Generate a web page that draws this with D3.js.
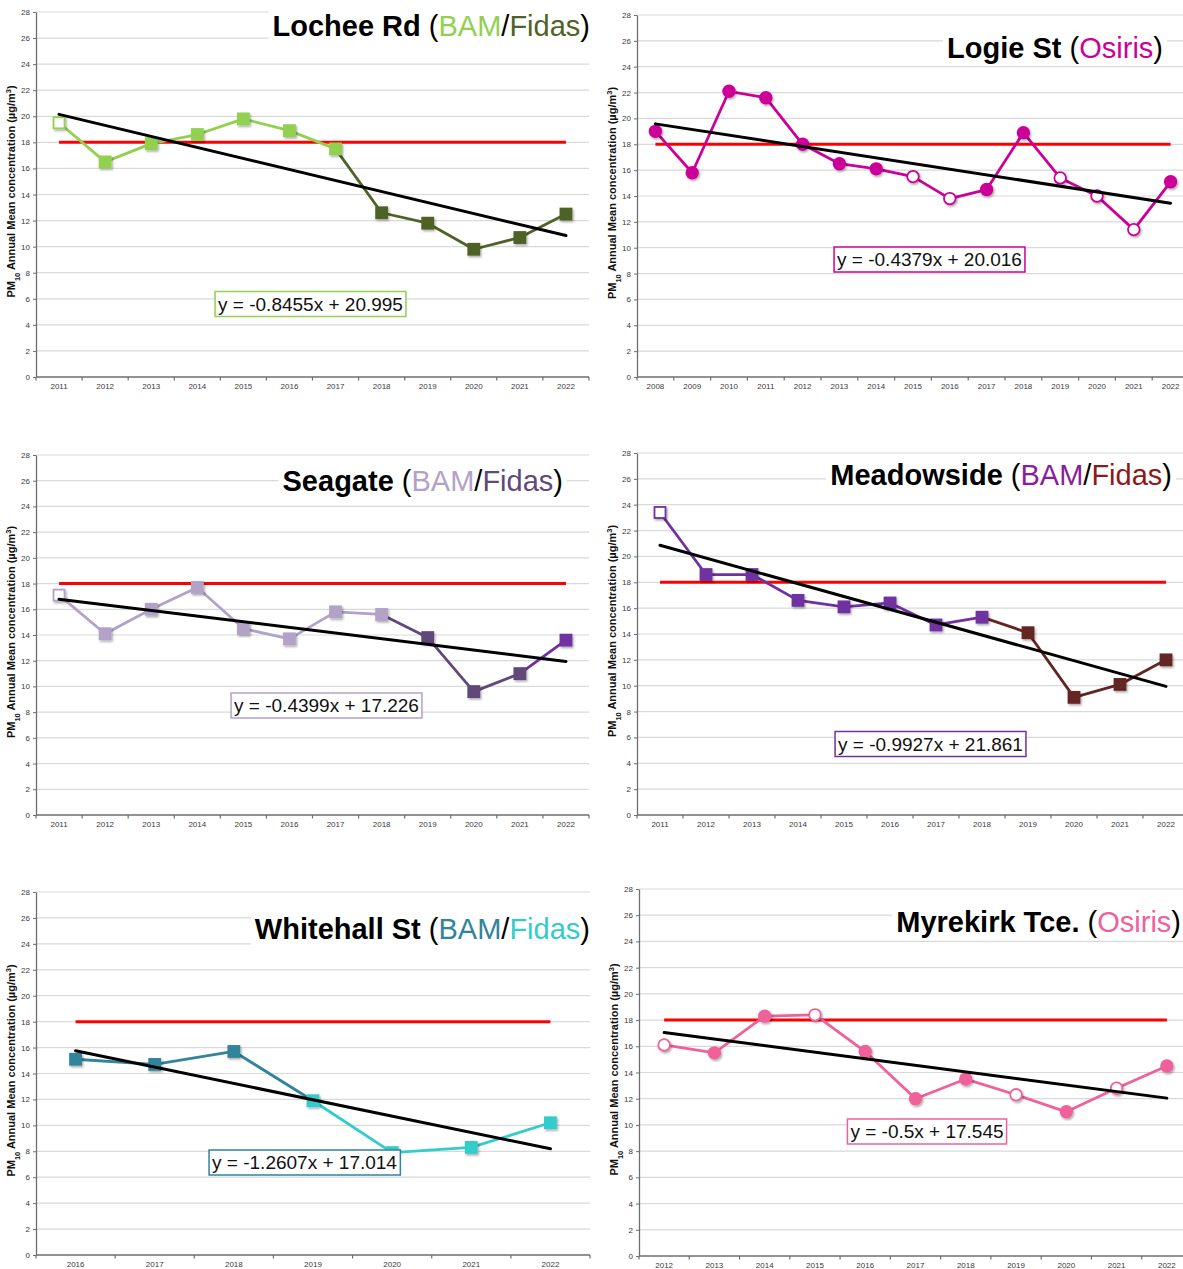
<!DOCTYPE html>
<html>
<head>
<meta charset="utf-8">
<script src="https://cdn.jsdelivr.net/npm/d3@7"></script>
<style>
  body { margin: 0; background: #fff; }
  svg { display: block; }
  text { font-family: "Liberation Sans", Arial, Helvetica, sans-serif; }
</style>
</head>
<body>
<svg id="chart" width="1183" height="1269"></svg>
<script>
// ---- Annual mean PM10 (µg/m3) by monitoring site ----
const objective = 18;                       // annual mean objective
const yTicks = [0, 2, 4, 6, 8, 10, 12, 14, 16, 18, 20, 22, 24, 26, 28];

const locheeYears = [2011, 2012, 2013, 2014, 2015, 2016, 2017, 2018, 2019, 2020, 2021, 2022];
const locheeValues = [19.5, 16.5, 17.9, 18.6, 19.8, 18.9, 17.5, 12.6, 11.8, 9.8, 10.7, 12.5];
const locheeMonitor = ["BAM", "BAM", "BAM", "BAM", "BAM", "BAM", "BAM", "Fidas", "Fidas", "Fidas", "Fidas", "Fidas"];
const locheeLowCapture = [true, false, false, false, false, false, false, false, false, false, false, false];
const locheeTrend = [-0.8455, 20.995];

const logieYears = [2008, 2009, 2010, 2011, 2012, 2013, 2014, 2015, 2016, 2017, 2018, 2019, 2020, 2021, 2022];
const logieValues = [19.0, 15.8, 22.1, 21.6, 18.0, 16.5, 16.1, 15.5, 13.8, 14.5, 18.9, 15.4, 14.0, 11.4, 15.1];
const logieMonitor = logieYears.map(() => "Osiris");
const logieLowCapture = [false, false, false, false, false, false, false, true, true, false, false, true, true, true, false];
const logieTrend = [-0.4379, 20.016];

const seagateYears = [2011, 2012, 2013, 2014, 2015, 2016, 2017, 2018, 2019, 2020, 2021, 2022];
const seagateValues = [17.1, 14.1, 16.0, 17.7, 14.5, 13.7, 15.8, 15.6, 13.8, 9.6, 11.0, 13.6];
const seagateMonitor = ["BAM", "BAM", "BAM", "BAM", "BAM", "BAM", "BAM", "BAM", "Fidas", "Fidas", "Fidas", "Fidas (new unit)"];
const seagateLowCapture = [true, false, false, false, false, false, false, false, false, false, false, false];
const seagateTrend = [-0.4399, 17.226];

const meadowYears = [2011, 2012, 2013, 2014, 2015, 2016, 2017, 2018, 2019, 2020, 2021, 2022];
const meadowValues = [23.4, 18.6, 18.6, 16.6, 16.1, 16.4, 14.7, 15.3, 14.1, 9.1, 10.1, 12.0];
const meadowMonitor = ["BAM", "BAM", "BAM", "BAM", "BAM", "BAM", "BAM", "BAM", "Fidas", "Fidas", "Fidas", "Fidas"];
const meadowLowCapture = [true, false, false, false, false, false, false, false, false, false, false, false];
const meadowTrend = [-0.9927, 21.861];

const whitehallYears = [2016, 2017, 2018, 2019, 2020, 2021, 2022];
const whitehallValues = [15.1, 14.7, 15.7, 11.9, 7.9, 8.3, 10.2];
const whitehallMonitor = ["BAM", "BAM", "BAM", "Fidas", "Fidas", "Fidas", "Fidas"];
const whitehallLowCapture = [false, false, false, false, false, false, false];
const whitehallTrend = [-1.2607, 17.014];

const myrekirkYears = [2012, 2013, 2014, 2015, 2016, 2017, 2018, 2019, 2020, 2021, 2022];
const myrekirkValues = [16.1, 15.5, 18.3, 18.4, 15.6, 12.0, 13.5, 12.3, 11.0, 12.8, 14.5];
const myrekirkMonitor = myrekirkYears.map(() => "Osiris");
const myrekirkLowCapture = [true, false, false, true, false, false, false, true, false, true, false];
const myrekirkTrend = [-0.5, 17.545];

// ---- Panel set-up: data, colours and placement ----
const panels = [
  { site: "Lochee Rd", years: locheeYears, values: locheeValues, monitor: locheeMonitor,
    low: locheeLowCapture, trend: locheeTrend, shape: "square", joinFrom: "next",
    colours: { BAM: "#92D050", Fidas: "#4F6228" },
    titleRuns: [["BAM", "#92D050"], ["Fidas", "#4F6228"]],
    plot: { l: 36, r: 589, t: 12, b: 377 }, titleEnd: [590, 36], eq: [310.5, 304] },
  { site: "Logie St", years: logieYears, values: logieValues, monitor: logieMonitor,
    low: logieLowCapture, trend: logieTrend, shape: "circle", joinFrom: "next",
    colours: { Osiris: "#CC0099" },
    titleRuns: [["Osiris", "#CC0099"]],
    plot: { l: 637, r: 1189, t: 15, b: 377 }, titleEnd: [1163, 58], eq: [929.5, 259.5] },
  { site: "Seagate", years: seagateYears, values: seagateValues, monitor: seagateMonitor,
    low: seagateLowCapture, trend: seagateTrend, shape: "square", joinFrom: "next",
    colours: { BAM: "#B3A2C7", Fidas: "#5F497A", "Fidas (new unit)": "#7030A0" },
    titleRuns: [["BAM", "#B3A2C7"], ["Fidas", "#5F497A"]],
    plot: { l: 36, r: 589, t: 455, b: 815 }, titleEnd: [563, 491], eq: [326.5, 705.5] },
  { site: "Meadowside", years: meadowYears, values: meadowValues, monitor: meadowMonitor,
    low: meadowLowCapture, trend: meadowTrend, shape: "square", joinFrom: "next",
    colours: { BAM: "#7030A0", Fidas: "#632523" },
    titleRuns: [["BAM", "#8A1D9E"], ["Fidas", "#8C1A1A"]],
    plot: { l: 637, r: 1189, t: 453, b: 815 }, titleEnd: [1172, 485], eq: [930.5, 744] },
  { site: "Whitehall St", years: whitehallYears, values: whitehallValues, monitor: whitehallMonitor,
    low: whitehallLowCapture, trend: whitehallTrend, shape: "square", joinFrom: "prev",
    colours: { BAM: "#31849B", Fidas: "#33CCCC" },
    titleRuns: [["BAM", "#31849B"], ["Fidas", "#33CCCC"]],
    plot: { l: 36, r: 590, t: 892, b: 1255 }, titleEnd: [590, 939], eq: [304.5, 1162.5] },
  { site: "Myrekirk Tce.", years: myrekirkYears, values: myrekirkValues, monitor: myrekirkMonitor,
    low: myrekirkLowCapture, trend: myrekirkTrend, shape: "circle", joinFrom: "next",
    colours: { Osiris: "#F0609A" },
    titleRuns: [["Osiris", "#F0609A"]],
    plot: { l: 639, r: 1192, t: 889, b: 1256 }, titleEnd: [1181, 932], eq: [927, 1131.5] }
];

const svg = d3.select("#chart");

// soft drop shadow used under the data markers
const defs = svg.append("defs");
defs.append("filter").attr("id", "markerShadow")
  .attr("x", "-50%").attr("y", "-50%").attr("width", "200%").attr("height", "200%")
  .append("feDropShadow")
  .attr("dx", 1.2).attr("dy", 1.6).attr("stdDeviation", 1.1)
  .attr("flood-color", "#000").attr("flood-opacity", 0.35);

function drawPanel(p) {
  const g = svg.append("g");
  const { l, r, t, b } = p.plot;

  const x = d3.scaleBand().domain(p.years).range([l, r]).paddingInner(0).paddingOuter(0);
  const cx = d => x(d) + x.bandwidth() / 2;
  const y = d3.scaleLinear().domain([0, 28]).range([b, t]);

  // horizontal gridlines
  g.append("g").selectAll("line").data(yTicks.filter(v => v > 0)).join("line")
    .attr("x1", l).attr("x2", r).attr("y1", d => y(d)).attr("y2", d => y(d))
    .attr("stroke", "#D9D9D9").attr("stroke-width", 1.2);

  // y axis
  const yAxis = g.append("g").attr("transform", `translate(${l},0)`)
    .call(d3.axisLeft(y).tickValues(yTicks).tickSize(3).tickPadding(3).tickSizeOuter(0));
  yAxis.select(".domain").attr("stroke", "#6E6E6E").attr("stroke-width", 1.3);
  yAxis.selectAll(".tick line").attr("stroke", "#6E6E6E");
  yAxis.selectAll(".tick text").attr("font-size", 8).attr("fill", "#3A3A3A")
    .style("font-family", "'Liberation Sans', Arial, sans-serif");

  // x axis: labels centred on categories, tick marks on category boundaries
  const xAxis = g.append("g").attr("transform", `translate(0,${b})`)
    .call(d3.axisBottom(x).tickSize(0).tickPadding(6).tickSizeOuter(0));
  xAxis.select(".domain").attr("stroke", "#6E6E6E").attr("stroke-width", 1.3)
    .attr("d", `M${l},0H${r}`);
  xAxis.selectAll(".tick text").attr("font-size", 8).attr("fill", "#3A3A3A")
    .style("font-family", "'Liberation Sans', Arial, sans-serif");
  const bounds = p.years.map(d => x(d)).concat([r]);
  g.append("g").selectAll("line").data(bounds).join("line")
    .attr("x1", d => d).attr("x2", d => d).attr("y1", b).attr("y2", b + 3.5)
    .attr("stroke", "#6E6E6E").attr("stroke-width", 1.2);

  // y axis title
  const yt = g.append("text")
    .attr("transform", `translate(${l - 21},${(t + b) / 2 - 3}) rotate(-90)`)
    .attr("text-anchor", "middle").attr("font-size", 11).attr("font-weight", "bold").attr("fill", "#111");
  yt.append("tspan").text("PM");
  yt.append("tspan").attr("baseline-shift", "sub").attr("font-size", 7.5).text("10");
  yt.append("tspan").text(" Annual Mean concentration (µg/m");
  yt.append("tspan").attr("baseline-shift", "super").attr("font-size", 7.5).text("3");
  yt.append("tspan").text(")");

  // objective line
  g.append("line")
    .attr("x1", cx(p.years[0])).attr("x2", cx(p.years[p.years.length - 1]))
    .attr("y1", y(objective)).attr("y2", y(objective))
    .attr("stroke", "#FF0000").attr("stroke-width", 3);

  // data line, one coloured segment per pair of years
  const pts = p.years.map((yr, i) => ({ yr, v: p.values[i], m: p.monitor[i], low: p.low[i] }));
  const segs = d3.pairs(pts).map(([a, c]) => ({ a, c, m: p.joinFrom === "prev" ? a.m : c.m }));
  g.append("g").selectAll("line").data(segs).join("line")
    .attr("x1", d => cx(d.a.yr)).attr("y1", d => y(d.a.v))
    .attr("x2", d => cx(d.c.yr)).attr("y2", d => y(d.c.v))
    .attr("stroke", d => p.colours[d.m]).attr("stroke-width", 2.8)
    .attr("stroke-linecap", "round");

  // markers (open = reduced data capture)
  const mk = g.append("g").attr("filter", "url(#markerShadow)");
  if (p.shape === "square") {
    mk.selectAll("rect").data(pts).join("rect")
      .attr("x", d => cx(d.yr) - (d.low ? 5.5 : 6.4)).attr("y", d => y(d.v) - (d.low ? 5.5 : 6.4))
      .attr("width", d => d.low ? 11 : 12.8).attr("height", d => d.low ? 11 : 12.8)
      .attr("fill", d => d.low ? "#fff" : p.colours[d.m])
      .attr("stroke", d => d.low ? p.colours[d.m] : "none").attr("stroke-width", 1.8);
  } else {
    mk.selectAll("circle").data(pts).join("circle")
      .attr("cx", d => cx(d.yr)).attr("cy", d => y(d.v))
      .attr("r", d => d.low ? 5.8 : 6.7)
      .attr("fill", d => d.low ? "#fff" : p.colours[d.m])
      .attr("stroke", d => d.low ? p.colours[d.m] : "none").attr("stroke-width", 1.8);
  }

  // linear trend over the category index 1..n
  const [slope, intercept] = p.trend;
  const n = p.years.length;
  g.append("line")
    .attr("x1", cx(p.years[0])).attr("y1", y(slope * 1 + intercept))
    .attr("x2", cx(p.years[n - 1])).attr("y2", y(slope * n + intercept))
    .attr("stroke", "#000").attr("stroke-width", 3).attr("stroke-linecap", "round");

  // trend equation label
  const eqText = `y = ${slope}x + ${intercept}`;
  const eg = g.append("g");
  const et = eg.append("text").attr("x", p.eq[0]).attr("y", p.eq[1])
    .attr("text-anchor", "middle").attr("dominant-baseline", "central")
    .attr("font-size", 19).attr("fill", "#111").text(eqText);
  const eb = et.node().getBBox();
  eg.insert("rect", "text")
    .attr("x", eb.x - 3).attr("y", p.eq[1] - 12.5).attr("width", eb.width + 6).attr("height", 25)
    .attr("fill", "#fff").attr("stroke", p.colours[p.monitor[0]]).attr("stroke-width", 1.5);

  // site title with monitor types
  const tg = g.append("g");
  const tt = tg.append("text").attr("x", p.titleEnd[0]).attr("y", p.titleEnd[1])
    .attr("text-anchor", "end").attr("font-size", 29).attr("fill", "#000");
  tt.append("tspan").attr("font-weight", "bold").text(p.site + " ");
  tt.append("tspan").text("(");
  p.titleRuns.forEach(([name, col], i) => {
    if (i > 0) tt.append("tspan").text("/");
    tt.append("tspan").attr("fill", col).text(name);
  });
  tt.append("tspan").text(")");
  const tb = tt.node().getBBox();
  tg.insert("rect", "text")
    .attr("x", tb.x - 4).attr("y", tb.y).attr("width", tb.width + 8).attr("height", tb.height)
    .attr("fill", "#fff");
}

panels.forEach(drawPanel);
</script>
</body>
</html>
